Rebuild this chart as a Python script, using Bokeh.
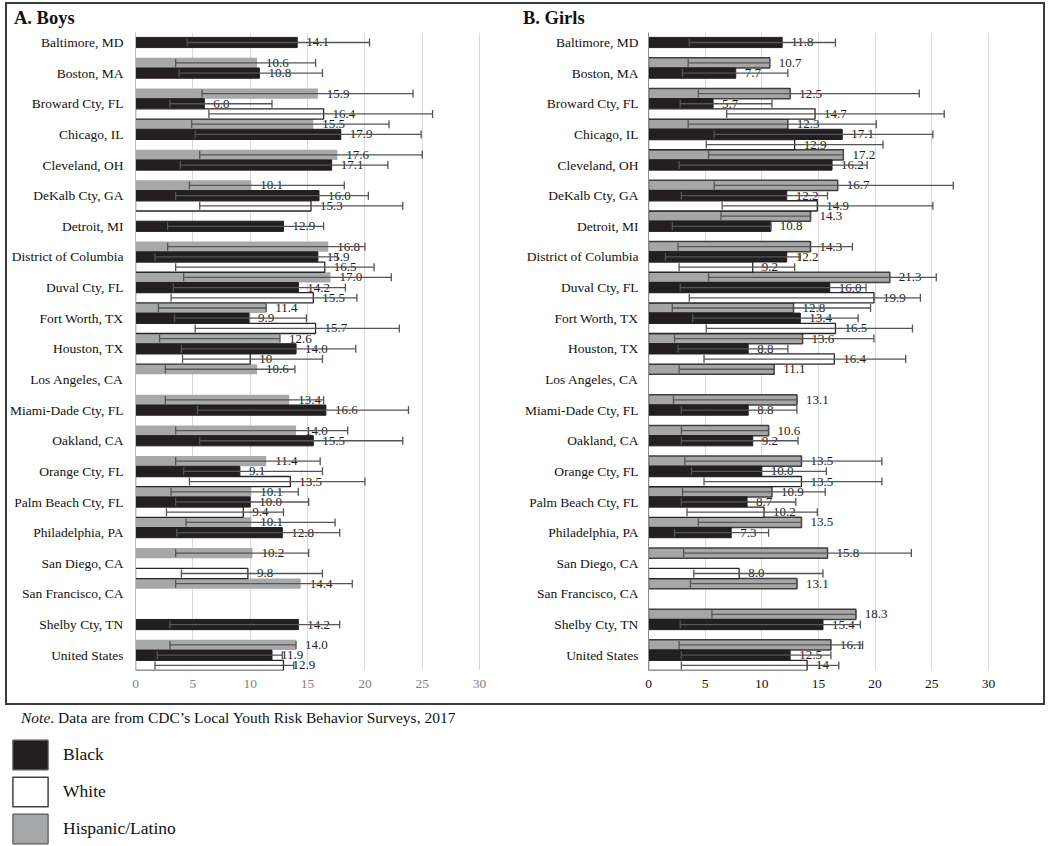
from bokeh.plotting import figure
from bokeh.models import (ColumnDataSource, Whisker, TeeHead, FixedTicker, Div,
                          Legend, LegendItem, Range1d)
from bokeh.layouts import row, column
from bokeh.embed import file_html
from bokeh.resources import INLINE
from bokeh.core.properties import value

cities = ["Baltimore, MD", "Boston, MA", "Broward Cty, FL", "Chicago, IL", "Cleveland, OH",
          "DeKalb Cty, GA", "Detroit, MI", "District of Columbia", "Duval Cty, FL",
          "Fort Worth, TX", "Houston, TX", "Los Angeles, CA", "Miami-Dade Cty, FL",
          "Oakland, CA", "Orange Cty, FL", "Palm Beach Cty, FL", "Philadelphia, PA",
          "San Diego, CA", "San Francisco, CA", "Shelby Cty, TN", "United States"]
N = None

# ---- Boys ----
boys_black    = [14.1, 10.8, 6.0, 17.9, 17.1, 16.0, 12.9, 15.9, 14.2, 9.9, 14.0, N, 16.6, 15.5, 9.1, 10.0, 12.8, N, N, 14.2, 11.9]
boys_black_lo = [4.5, 3.8, 3.0, 5.2, 3.9, 3.5, 2.8, 1.7, 3.3, 3.4, 4.0, N, 5.4, 5.6, 4.2, 3.5, 3.6, N, N, 3.0, 1.9]
boys_black_hi = [20.4, 16.3, 11.9, 24.9, 22.0, 20.3, 16.4, 17.6, 18.3, 14.9, 19.2, N, 23.8, 23.3, 16.3, 15.1, 17.8, N, N, 17.8, 12.8]

boys_white    = [N, N, 16.4, N, N, 15.3, N, 16.5, 15.5, 15.7, 10.0, N, N, N, 13.5, 9.4, N, 9.8, N, N, 12.9]
boys_white_lo = [N, N, 6.4, N, N, 5.6, N, 3.5, 3.1, 5.2, 4.1, N, N, N, 4.7, 2.7, N, 4.0, N, N, 1.7]
boys_white_hi = [N, N, 25.9, N, N, 23.3, N, 20.8, 19.3, 23.0, 16.3, N, N, N, 20.0, 12.9, N, 16.3, N, N, 13.8]
boys_white_text = {10: "10"}

boys_hisp    = [N, 10.6, 15.9, 15.5, 17.6, 10.1, N, 16.8, 17.0, 11.4, 12.6, 10.6, 13.4, 14.0, 11.4, 10.1, 10.1, 10.2, 14.4, N, 14.0]
boys_hisp_lo = [N, 3.5, 5.8, 4.9, 5.6, 4.7, N, 2.8, 4.2, 2.0, 2.1, 2.6, 2.6, 3.5, 3.5, 3.1, 4.4, 3.5, 3.5, N, 3.0]
boys_hisp_hi = [N, 15.7, 24.2, 22.1, 25.0, 18.2, N, 20.0, 22.3, 11.4, 12.6, 13.9, 16.4, 18.5, 16.1, 14.2, 17.4, 15.1, 18.9, N, 14.0]

# ---- Girls ----
girls_black    = [11.8, 7.7, 5.7, 17.1, 16.2, 12.2, 10.8, 12.2, 16.0, 13.4, 8.8, N, 8.8, 9.2, 10.0, 8.7, 7.3, N, N, 15.4, 12.5]
girls_black_lo = [3.6, 3.0, 2.8, 5.8, 2.7, 2.9, 2.1, 1.5, 2.8, 3.9, 2.6, N, 2.9, 2.9, 3.8, 2.9, 2.3, N, N, 2.8, 2.9]
girls_black_hi = [16.5, 12.3, 10.9, 25.1, 19.3, 15.8, 10.8, 13.4, 19.2, 18.5, 12.3, N, 13.1, 13.2, 15.7, 13.0, 10.6, N, N, 18.7, 16.1]

girls_white    = [N, N, 14.7, 12.9, N, 14.9, N, 9.2, 19.9, 16.5, 16.4, N, N, N, 13.5, 10.2, N, 8.0, N, N, 14.0]
girls_white_lo = [N, N, 6.9, 5.1, N, 6.5, N, 2.7, 3.6, 5.1, 4.9, N, N, N, 4.9, 3.4, N, 4.0, N, N, 2.9]
girls_white_hi = [N, N, 26.1, 20.7, N, 25.1, N, 12.9, 24.0, 23.3, 22.7, N, N, N, 20.6, 14.9, N, 15.4, N, N, 16.8]
girls_white_text = {20: "14"}

girls_hisp    = [N, 10.7, 12.5, 12.3, 17.2, 16.7, 14.3, 14.3, 21.3, 12.8, 13.6, 11.1, 13.1, 10.6, 13.5, 10.9, 13.5, 15.8, 13.1, 18.3, 16.1]
girls_hisp_lo = [N, 3.5, 4.4, 3.5, 5.3, 5.8, 6.4, 2.6, 5.3, 2.1, 2.3, 2.7, 2.2, 2.9, 3.2, 3.0, 4.4, 3.1, 3.7, 5.6, 2.7]
girls_hisp_hi = [N, 10.7, 23.9, 20.1, 17.2, 26.9, 14.3, 18.0, 25.4, 19.6, 19.9, 11.1, 13.1, 10.6, 20.6, 15.6, 13.5, 23.2, 13.1, 18.3, 18.9]

x_ticks = [0, 5, 10, 15, 20, 25, 30]
legend_labels = ["Black", "White", "Hispanic/Latino"]

SERIF = "Liberation Serif"
BLACK_FILL = "#231f20"
GREY_FILL = "#a7a8aa"
ERR_COLOR = "#555555"
SLOT = 1.0 / 3.0


def make_source(vals, los, his, offset, overrides=None):
    overrides = overrides or {}
    d = dict(y=[], v=[], lo=[], hi=[], lbl=[])
    for i, (v, lo, hi) in enumerate(zip(vals, los, his)):
        if v is None:
            continue
        d["y"].append(i + offset)
        d["v"].append(v)
        d["lo"].append(lo)
        d["hi"].append(hi)
        d["lbl"].append(overrides.get(i, f"{v:.1f}"))
    return ColumnDataSource(d)


def panel(width, border_left, border_right, x_end, series, standoff, tick_color, axis_color):
    p = figure(width=width, height=671, output_backend="svg", toolbar_location=None,
               x_range=Range1d(0, x_end), y_range=Range1d(20.5, -0.326),
               min_border_left=border_left, min_border_right=border_right,
               min_border_top=0, min_border_bottom=33)
    p.outline_line_color = None
    p.background_fill_color = "white"
    p.border_fill_color = "white"
    p.ygrid.visible = False
    p.xgrid.ticker = FixedTicker(ticks=x_ticks)
    p.xgrid.grid_line_color = "#d9d9d9"
    p.xgrid.grid_line_width = 1

    p.xaxis.ticker = FixedTicker(ticks=x_ticks)
    p.xaxis.axis_line_color = None
    p.xaxis.major_tick_line_color = None
    p.xaxis.minor_tick_line_color = None
    p.xaxis.major_tick_out = 0
    p.xaxis.major_tick_in = 0
    p.xaxis.minor_tick_out = 0
    p.xaxis.major_label_text_font = SERIF
    p.xaxis.major_label_text_font_size = "13.5px"
    p.xaxis.major_label_text_color = tick_color
    p.xaxis.major_label_standoff = 9

    p.yaxis.ticker = FixedTicker(ticks=list(range(len(cities))))
    p.yaxis.major_label_overrides = {i: c for i, c in enumerate(cities)}
    p.yaxis.axis_line_color = axis_color
    p.yaxis.major_tick_line_color = None
    p.yaxis.minor_tick_line_color = None
    p.yaxis.major_tick_out = 0
    p.yaxis.major_tick_in = 0
    p.yaxis.minor_tick_out = 0
    p.yaxis.major_label_text_font = SERIF
    p.yaxis.major_label_text_font_size = "13.5px"
    p.yaxis.major_label_text_color = "#111111"
    p.yaxis.major_label_standoff = standoff

    for src, fill, line, lw in series:
        p.hbar(y="y", left=0, right="v", height=SLOT, source=src,
               fill_color=fill, line_color=line, line_width=lw)
        p.text(x="v", y="y", text="lbl", source=src, x_offset=9,
               text_align="left", text_baseline="middle",
               text_font=value(SERIF), text_font_size="13px", text_color="#222222")
        w = Whisker(source=src, base="y", lower="lo", upper="hi", dimension="width",
                    line_color=ERR_COLOR, line_width=1.3, level="annotation",
                    upper_head=TeeHead(size=8, line_color=ERR_COLOR, line_width=1.3),
                    lower_head=TeeHead(size=8, line_color=ERR_COLOR, line_width=1.3))
        p.add_layout(w)
    return p


boys_series = [
    (make_source(boys_hisp, boys_hisp_lo, boys_hisp_hi, -SLOT), GREY_FILL, None, 0),
    (make_source(boys_black, boys_black_lo, boys_black_hi, 0.0), BLACK_FILL, BLACK_FILL, 1),
    (make_source(boys_white, boys_white_lo, boys_white_hi, SLOT, boys_white_text), "white", "#262626", 1.3),
]
girls_series = [
    (make_source(girls_hisp, girls_hisp_lo, girls_hisp_hi, -SLOT), "#a6a6a6", "#3f3f3f", 1.5),
    (make_source(girls_black, girls_black_lo, girls_black_hi, 0.0), BLACK_FILL, BLACK_FILL, 1),
    (make_source(girls_white, girls_white_lo, girls_white_hi, SLOT, girls_white_text), "white", "#262626", 1.3),
]

BOYS_W, GIRLS_W = 507, 529
boys = panel(BOYS_W, 128, 14, 365 / 11.47, boys_series, 12, "#7f7f7f", "#bfbfbf")
girls = panel(GIRLS_W, 134, 33, 362 / 11.33, girls_series, 10, "#111111", "#8c8c8c")

title_style = {"font-family": SERIF, "font-weight": "bold", "font-size": "18.5px",
               "line-height": "28px", "color": "#111111"}
boys_title = Div(text="A. Boys", width=BOYS_W, height=28, margin=0,
                 styles=dict(title_style, **{"padding-left": "7px"}))
girls_title = Div(text="B. Girls", width=GIRLS_W, height=28, margin=0,
                  styles=dict(title_style, **{"padding-left": "9px"}))

box = row(column(boys_title, boys, spacing=0), column(girls_title, girls, spacing=0),
          spacing=0, margin=(2, 0, 0, 5), styles={"border": "2px solid #3a3a3a"})

note = Div(text="<i>Note</i>. Data are from CDC\u2019s Local Youth Risk Behavior Surveys, 2017",
           width=1000, height=26, margin=0,
           styles={"font-family": SERIF, "font-size": "15.5px", "line-height": "26px",
                   "padding-left": "21px", "color": "#111111"})

leg = figure(width=400, height=115, output_backend="svg", toolbar_location=None,
             x_range=Range1d(0, 1), y_range=Range1d(0, 1),
             min_border_left=0, min_border_right=0, min_border_top=0, min_border_bottom=0)
leg.axis.visible = False
leg.grid.visible = False
leg.outline_line_color = None
leg.background_fill_color = "white"
leg.border_fill_color = "white"
nan = float("nan")
placeholder = dict(y=[nan], right=[nan])   # legend-only renderers, nothing drawn
r_black = leg.hbar(y="y", left=0, right="right", height=1, source=ColumnDataSource(placeholder),
                   fill_color=BLACK_FILL, line_color="#555555", line_width=1.2)
r_white = leg.hbar(y="y", left=0, right="right", height=1, source=ColumnDataSource(placeholder),
                   fill_color="white", line_color="#444444", line_width=1.5)
r_hisp = leg.hbar(y="y", left=0, right="right", height=1, source=ColumnDataSource(placeholder),
                  fill_color=GREY_FILL, line_color="#555555", line_width=1.2)
legend = Legend(items=[LegendItem(label=legend_labels[0], renderers=[r_black]),
                       LegendItem(label=legend_labels[1], renderers=[r_white]),
                       LegendItem(label=legend_labels[2], renderers=[r_hisp])],
                location=(8, -1), orientation="vertical",
                glyph_width=44, glyph_height=37, spacing=0, padding=0, margin=0,
                label_standoff=11, label_text_font=SERIF, label_text_font_size="17.5px",
                label_text_color="#111111", border_line_color=None,
                background_fill_alpha=0)
leg.add_layout(legend, "center")

page = column(box, note, leg, spacing=0)

open("out.html", "w").write(file_html(page, INLINE))
